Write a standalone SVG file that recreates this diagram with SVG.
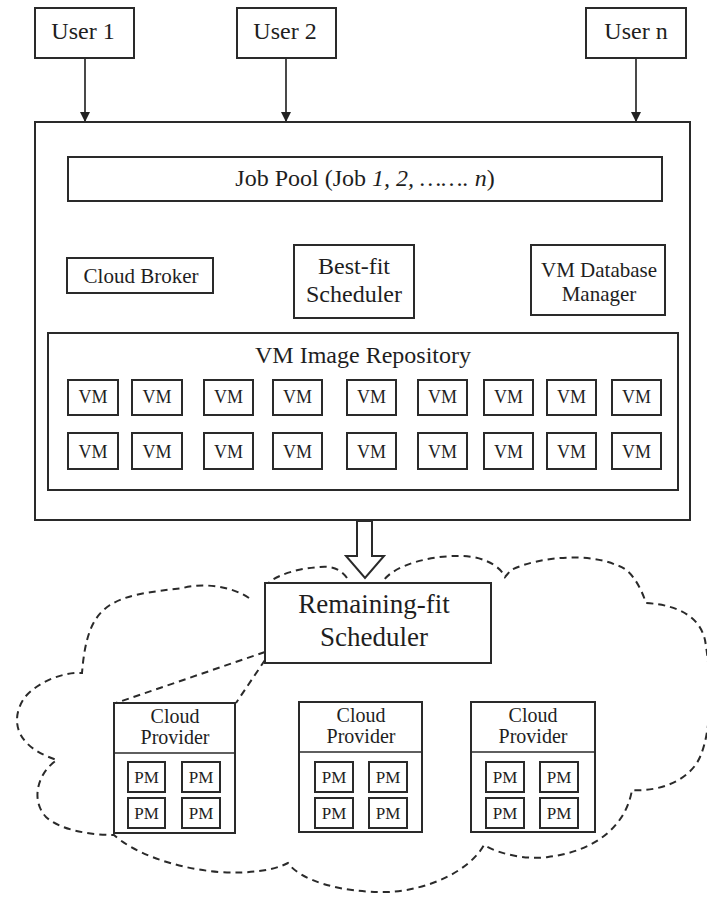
<svg xmlns="http://www.w3.org/2000/svg" width="707" height="900" viewBox="0 0 707 900">
  <defs>
    <marker id="arrow" viewBox="0 0 10 10" refX="10" refY="5" markerWidth="10" markerHeight="10" markerUnits="userSpaceOnUse" orient="auto">
      <path d="M0,0 L10,5 L0,10 z" fill="#222"/>
    </marker>
    <style>
      .box { fill: #fff; stroke: #2a2a2a; stroke-width: 2; }
      .sm { fill: #fff; stroke: #2a2a2a; stroke-width: 2; }
      .line { fill: none; stroke: #2a2a2a; stroke-width: 1.7; }
      .dash { fill: none; stroke: #2a2a2a; stroke-width: 2; stroke-dasharray: 7 5; }
      text { font-family: "Liberation Serif", "Times New Roman", serif; fill: #1e1e1e; text-anchor: middle; }
      .t24 { font-size: 24px; }
      .t21 { font-size: 21px; }
      .t20 { font-size: 20px; }
      .vm { font-size: 18px; }
      .pm { font-size: 17px; }
    </style>
  </defs>
  <rect width="707" height="900" fill="#fff"/>

  <!-- cloud outline -->
  <g id="cloud">
    <path class="dash" d="M249,598 C230,585 200,583 183,588 C150,592 128,594 110,605 C93,616 85,635 82,673
      C65,672 40,680 25,697 C12,715 10,745 57,760
      C38,772 30,800 46,817 C60,830 90,835 114,835
      C130,850 170,868 219,872 C250,874 275,870 288,863
      C300,880 340,893 388,892 C430,890 470,870 484,845
      C500,855 530,860 548,857 C590,852 625,830 632,790
      C660,792 690,780 700,757 C712,730 712,680 705,640 C700,618 680,605 646,603
      C640,585 630,568 616,565 C590,553 540,556 511,570 L505,577
      C500,565 480,555 457,556 C430,556 395,565 384,580
      M347,578 C340,568 330,566 320,567 C300,568 280,574 269,582"/>
  </g>

  <!-- connectors -->
  <g id="connectors">
    <line class="line" x1="85" y1="58" x2="85" y2="122" marker-end="url(#arrow)"/>
    <line class="line" x1="286" y1="58" x2="286" y2="122" marker-end="url(#arrow)"/>
    <line class="line" x1="636" y1="58" x2="636" y2="122" marker-end="url(#arrow)"/>
    <line class="line" x1="364" y1="201" x2="364" y2="245" marker-end="url(#arrow)"/>
    <line class="line" x1="531" y1="283" x2="414" y2="283" marker-end="url(#arrow)"/>
    <line class="dash" x1="294" y1="318" x2="50" y2="333"/>
    <line class="dash" x1="414" y1="318" x2="676" y2="333"/>
    <path class="sm" d="M357,521 L372,521 L372,556 L384,556 L365,578 L346,556 L357,556 Z"/>
    <line class="dash" x1="265" y1="652" x2="116" y2="703"/>
    <line class="dash" x1="265" y1="660" x2="236" y2="703"/>
  </g>

  <!-- users -->
  <g id="user1"><rect class="box" x="35" y="8" width="99" height="50"/><text class="t24" x="83" y="39">User 1</text></g>
  <g id="user2"><rect class="box" x="237" y="8" width="99" height="50"/><text class="t24" x="285" y="39">User 2</text></g>
  <g id="usern"><rect class="box" x="586" y="8" width="100" height="50"/><text class="t24" x="636" y="39">User n</text></g>

  <!-- broker system -->
  <g id="system"><rect class="box" x="35" y="122" width="655" height="398" fill="none"/></g>

  <g id="jobpool">
    <rect class="box" x="68" y="157" width="594" height="44"/>
    <text class="t24" x="365" y="186">Job Pool (Job <tspan font-style="italic">1, 2, ……. n</tspan>)</text>
  </g>

  <g id="cloudbroker">
    <rect class="box" x="67" y="258" width="146" height="35"/>
    <text class="t21" x="141" y="283">Cloud Broker</text>
  </g>

  <g id="bestfit">
    <rect class="box" x="294" y="245" width="120" height="73"/>
    <text class="t24" x="354" y="274">Best-fit</text>
    <text class="t24" x="354" y="302">Scheduler</text>
  </g>

  <g id="vmdb">
    <rect class="box" x="531" y="245" width="134" height="70"/>
    <text class="t21" x="599" y="277">VM Database</text>
    <text class="t21" x="599" y="301">Manager</text>
  </g>

  <g id="repository">
    <rect class="box" x="48" y="333" width="630" height="157"/>
    <text class="t24" x="363" y="363">VM Image Repository</text>
    <g id="vms">
      <rect class="sm" x="68" y="380" width="50" height="35"/><text class="vm" x="93" y="403">VM</text>
      <rect class="sm" x="132" y="380" width="50" height="35"/><text class="vm" x="157" y="403">VM</text>
      <rect class="sm" x="204" y="380" width="49" height="35"/><text class="vm" x="228.5" y="403">VM</text>
      <rect class="sm" x="273" y="380" width="49" height="35"/><text class="vm" x="297.5" y="403">VM</text>
      <rect class="sm" x="347" y="380" width="49" height="35"/><text class="vm" x="371.5" y="403">VM</text>
      <rect class="sm" x="418" y="380" width="49" height="35"/><text class="vm" x="442.5" y="403">VM</text>
      <rect class="sm" x="484" y="380" width="49" height="35"/><text class="vm" x="508.5" y="403">VM</text>
      <rect class="sm" x="547" y="380" width="49" height="35"/><text class="vm" x="571.5" y="403">VM</text>
      <rect class="sm" x="612" y="380" width="49" height="35"/><text class="vm" x="636.5" y="403">VM</text>

      <rect class="sm" x="68" y="433" width="50" height="36"/><text class="vm" x="93" y="458">VM</text>
      <rect class="sm" x="132" y="433" width="50" height="36"/><text class="vm" x="157" y="458">VM</text>
      <rect class="sm" x="204" y="433" width="49" height="36"/><text class="vm" x="228.5" y="458">VM</text>
      <rect class="sm" x="273" y="433" width="49" height="36"/><text class="vm" x="297.5" y="458">VM</text>
      <rect class="sm" x="347" y="433" width="49" height="36"/><text class="vm" x="371.5" y="458">VM</text>
      <rect class="sm" x="418" y="433" width="49" height="36"/><text class="vm" x="442.5" y="458">VM</text>
      <rect class="sm" x="484" y="433" width="49" height="36"/><text class="vm" x="508.5" y="458">VM</text>
      <rect class="sm" x="547" y="433" width="49" height="36"/><text class="vm" x="571.5" y="458">VM</text>
      <rect class="sm" x="612" y="433" width="49" height="36"/><text class="vm" x="636.5" y="458">VM</text>
    </g>
  </g>

  <g id="remainingfit">
    <rect class="box" x="265" y="583" width="226" height="80"/>
    <text x="374" y="613" font-size="27">Remaining-fit</text>
    <text x="374" y="646" font-size="27">Scheduler</text>
  </g>

  <g id="provider1">
    <rect class="box" x="114" y="703" width="121" height="130"/>
    <line class="line" x1="114" y1="753" x2="235" y2="753"/>
    <text class="t20" x="175" y="723">Cloud</text>
    <text class="t20" x="175" y="744">Provider</text>
    <rect class="sm" x="128" y="762" width="37" height="30"/><text class="pm" x="146.5" y="783">PM</text>
    <rect class="sm" x="182" y="762" width="38" height="30"/><text class="pm" x="201" y="783">PM</text>
    <rect class="sm" x="128" y="798" width="37" height="30"/><text class="pm" x="146.5" y="819">PM</text>
    <rect class="sm" x="182" y="798" width="38" height="30"/><text class="pm" x="201" y="819">PM</text>
  </g>

  <g id="provider2">
    <rect class="box" x="299" y="702" width="123" height="130"/>
    <line class="line" x1="299" y1="752" x2="422" y2="752"/>
    <text class="t20" x="361" y="722">Cloud</text>
    <text class="t20" x="361" y="743">Provider</text>
    <rect class="sm" x="315" y="762" width="38" height="30"/><text class="pm" x="334" y="783">PM</text>
    <rect class="sm" x="369" y="762" width="38" height="30"/><text class="pm" x="388" y="783">PM</text>
    <rect class="sm" x="315" y="798" width="38" height="30"/><text class="pm" x="334" y="819">PM</text>
    <rect class="sm" x="369" y="798" width="38" height="30"/><text class="pm" x="388" y="819">PM</text>
  </g>

  <g id="provider3">
    <rect class="box" x="471" y="702" width="124" height="130"/>
    <line class="line" x1="471" y1="752" x2="595" y2="752"/>
    <text class="t20" x="533" y="722">Cloud</text>
    <text class="t20" x="533" y="743">Provider</text>
    <rect class="sm" x="486" y="762" width="38" height="30"/><text class="pm" x="505" y="783">PM</text>
    <rect class="sm" x="540" y="762" width="38" height="30"/><text class="pm" x="559" y="783">PM</text>
    <rect class="sm" x="486" y="798" width="38" height="30"/><text class="pm" x="505" y="819">PM</text>
    <rect class="sm" x="540" y="798" width="38" height="30"/><text class="pm" x="559" y="819">PM</text>
  </g>
</svg>
